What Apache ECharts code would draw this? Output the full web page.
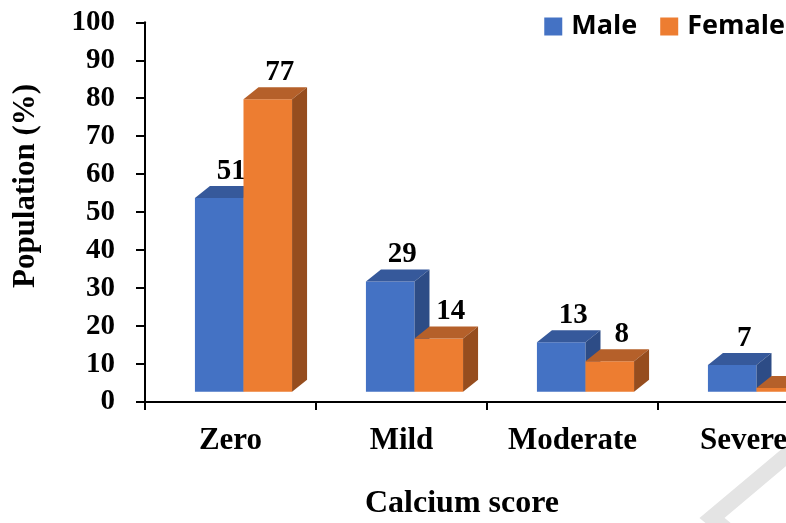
<!DOCTYPE html>
<html><head><meta charset="utf-8">
<script src="https://cdn.jsdelivr.net/npm/echarts@6/dist/echarts.min.js"></script>
<style>html,body{margin:0;padding:0;background:#fff;overflow:hidden;width:786px;height:523px}#c{width:830px;height:523px}</style>
</head><body><div id="c"></div>
<script>
const categories = ['Zero', 'Mild', 'Moderate', 'Severe'];
const maleValues = [51, 29, 13, 7];
const femaleValues = [77, 14, 8, 1];
const seriesNames = ['Male', 'Female'];
const yMin = 0, yMax = 100, yStep = 10;

const faceColors = [
  { front: '#4472C4', top: '#36599B', side: '#2D4C86' },
  { front: '#ED7D31', top: '#B5602A', side: '#964D1E' }
];
const serif = '"Liberation Serif", "Times New Roman", serif';

function makeRender(s) {
  return function (params, api) {
    const ci = api.value(0), v = api.value(1);
    const base = api.coord([ci, 0]);
    const top = api.coord([ci, v]);
    const band = api.size([1, 0])[0];
    const w = band * 0.284;
    const x0 = base[0] - band * 0.208 + s * w;
    const floor = 10.3, dx = 15, dy = 12;
    const yB = base[1] - floor, yT = top[1] - floor;
    const c = faceColors[s];
    return {
      type: 'group',
      children: [
        { type: 'rect', shape: { x: x0, y: yT, width: w, height: yB - yT }, style: { fill: c.front } },
        { type: 'polygon', shape: { points: [[x0, yT], [x0 + dx, yT - dy], [x0 + w + dx, yT - dy], [x0 + w, yT]] }, style: { fill: c.top } },
        { type: 'polygon', shape: { points: [[x0 + w, yT], [x0 + w + dx, yT - dy], [x0 + w + dx, yB - dy], [x0 + w, yB]] }, style: { fill: c.side } },
        { type: 'text', x: x0 + w / 2 + 12, y: yT - 27, style: { text: String(v), fill: '#000', font: 'bold 29px ' + serif, align: 'center', verticalAlign: 'middle' } }
      ]
    };
  };
}

const chart = echarts.init(document.getElementById('c'), null, { renderer: 'canvas' });
chart.setOption({
  animation: false,
  grid: { left: 145, top: 22.3, right: 1, bottom: 121, containLabel: false },
  legend: {
    data: seriesNames,
    right: 40, top: 8,
    icon: 'rect', itemWidth: 18, itemHeight: 18, itemGap: 23,
    textStyle: { fontFamily: '"Open Sans", sans-serif', fontWeight: 'bold', fontSize: 27, color: '#000', padding: [0, 0, 0, 4] }
  },
  xAxis: {
    type: 'category', data: categories, boundaryGap: true,
    axisLine: { lineStyle: { color: '#000', width: 2 } },
    axisTick: { show: true, length: 8, lineStyle: { color: '#000', width: 2 } },
    axisLabel: { color: '#000', fontFamily: serif, fontWeight: 'bold', fontSize: 31, margin: 23, interval: 0, hideOverlap: false }
  },
  yAxis: {
    type: 'value', min: yMin, max: yMax, interval: yStep,
    splitLine: { show: false },
    axisLine: { show: true, lineStyle: { color: '#000', width: 2 } },
    axisTick: { show: true, length: 9, lineStyle: { color: '#000', width: 2 } },
    axisLabel: { color: '#000', fontFamily: serif, fontWeight: 'bold', fontSize: 29, margin: 30 }
  },
  graphic: [
    { type: 'text', x: 26, y: 186, rotation: Math.PI / 2, style: { text: 'Population (%)', fill: '#000', font: 'bold 31px ' + serif, align: 'center', verticalAlign: 'middle' } },
    { type: 'text', x: 462, y: 504, style: { text: 'Calcium score', fill: '#000', font: 'bold 32px ' + serif, align: 'center', verticalAlign: 'middle' } },
    { type: 'polyline', silent: true, z: -10, shape: { points: [[800, 444], [712, 518], [800, 590]] }, style: { stroke: '#e4e4e4', lineWidth: 16, fill: null } }
  ],
  series: [
    { name: seriesNames[0], type: 'custom', itemStyle: { color: faceColors[0].front }, renderItem: makeRender(0), data: maleValues.map((v, i) => [i, v]) },
    { name: seriesNames[1], type: 'custom', itemStyle: { color: faceColors[1].front }, renderItem: makeRender(1), data: femaleValues.map((v, i) => [i, v]) }
  ]
});
</script></body></html>
